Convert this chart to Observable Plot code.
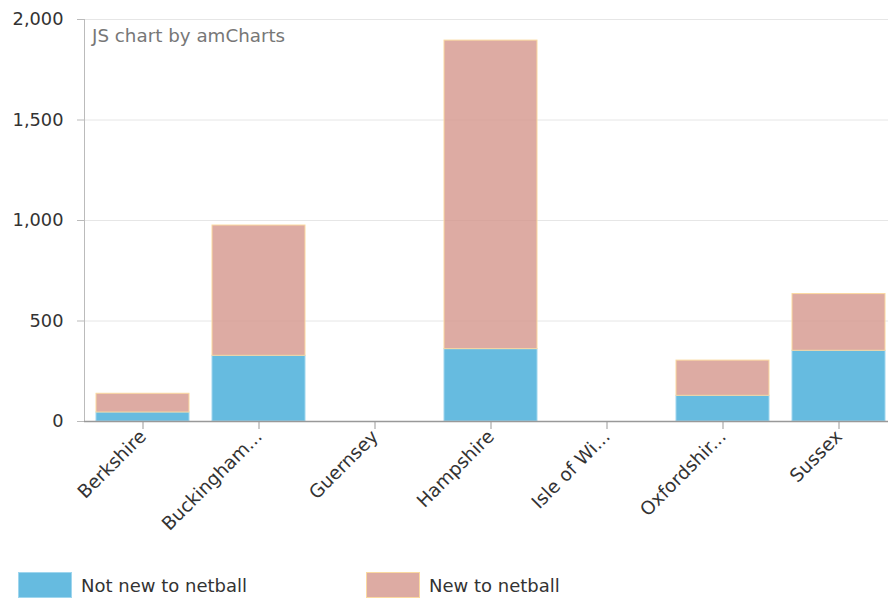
<!DOCTYPE html>
<html>
<head>
<meta charset="utf-8">
<script src="https://cdn.jsdelivr.net/npm/d3@7"></script>
<script src="https://cdn.jsdelivr.net/npm/@observablehq/plot@0.6"></script>
<style>
  body { margin: 0; background: #fff; font-family: "DejaVu Sans", Verdana, sans-serif; }
  #chart { position: relative; width: 888px; height: 545px; }
  .credit { position: absolute; left: 92px; top: 25px; font-size: 18.3px; color: #777; }
  .legend { position: relative; height: 54px; font-size: 18px; color: #333; }
  .item { position: absolute; top: 27px; display: flex; align-items: center; }
  .sw { width: 54px; height: 26px; margin-right: 9px; box-sizing: border-box; }
</style>
</head>
<body>
<div id="chart"></div>
<script>
const categories = ["Berkshire", "Buckinghamshire", "Guernsey", "Hampshire", "Isle of Wight", "Oxfordshire", "Sussex"];
const seriesNames = ["Not new to netball", "New to netball"];
const notNew = [45, 327, 0, 360, 0, 128, 352];
const isNew = [93, 648, 0, 1535, 0, 175, 282];
const yTicks = [0, 500, 1000, 1500, 2000];

const fills = {"Not new to netball": "rgba(64,170,216,0.8)", "New to netball": "rgba(212,150,140,0.8)"};
const strokes = {"Not new to netball": "#9fd6ee", "New to netball": "#fbd9a0"};

const data = [];
categories.forEach((c, i) => {
  data.push({category: c, series: seriesNames[0], value: notNew[i]});
  data.push({category: c, series: seriesNames[1], value: isNew[i]});
});

const trunc = s => s.length > 10 ? s.slice(0, 10) + "..." : s;
const fmt = d3.format(",");

const plot = Plot.plot({
  width: 888,
  height: 545,
  marginLeft: 84,
  marginRight: 0,
  marginTop: 19,
  marginBottom: 124,
  style: {fontFamily: "DejaVu Sans, Verdana, sans-serif", fontSize: "17.8px", color: "#333", background: "#fff", overflow: "visible"},
  x: {domain: categories, paddingInner: 0.2, paddingOuter: 0.06, align: 0.8, label: null},
  y: {domain: [0, 2000], label: null},
  color: {type: "identity"},
  marks: [
    Plot.gridY(yTicks, {stroke: "#e6e6e6", strokeOpacity: 1}),
    Plot.frame({anchor: "left", stroke: "#bbb", strokeOpacity: 1}),
    Plot.barY(data, Plot.stackY({
      x: "category", y: "value", z: "series",
      fill: d => fills[d.series], stroke: d => strokes[d.series], strokeWidth: 1
    })),
    Plot.axisY({ticks: yTicks, tickFormat: fmt, tickSize: 7, tickPadding: 14, stroke: "#bbb", fill: "#333"}),
    Plot.axisX({tickRotate: -45, tickFormat: trunc, tickSize: 8, tickPadding: 4, stroke: "#999", fill: "#333", fontSize: 18.5}),
    Plot.ruleY([0], {stroke: "#999", strokeWidth: 1.5})
  ]
});

const chart = document.getElementById("chart");
chart.appendChild(plot);
const credit = document.createElement("div");
credit.className = "credit";
credit.textContent = "JS chart by amCharts";
chart.appendChild(credit);

const legend = document.createElement("div");
legend.className = "legend";
const lx = [18, 366];
seriesNames.forEach((s, i) => {
  const it = document.createElement("div");
  it.className = "item";
  it.style.left = lx[i] + "px";
  const sw = document.createElement("div");
  sw.className = "sw";
  sw.style.background = fills[s];
  sw.style.border = "1px solid " + strokes[s];
  const t = document.createElement("span");
  t.textContent = s;
  it.appendChild(sw); it.appendChild(t);
  legend.appendChild(it);
});
document.body.appendChild(legend);
</script>
</body>
</html>
